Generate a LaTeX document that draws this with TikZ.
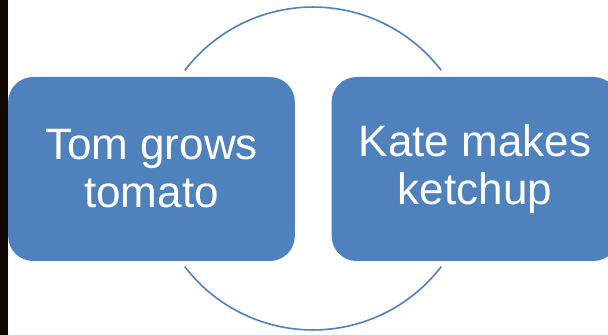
\documentclass[tikz,border=0pt]{standalone}
\usepackage{fontspec}
\setmainfont{Liberation Sans}
\definecolor{boxBlue}{RGB}{79,129,189}
\definecolor{sideDark}{RGB}{18,7,0}
\tikzset{stepBox/.style={shape = rectangle, rounded corners = 18.75pt, fill = boxBlue,
  minimum width = 215pt, minimum height = 138pt, inner sep = 0pt, text = white,
  align = center, font = \fontsize{33}{36}\selectfont}}
\tikzset{cycleArc/.style={draw = boxBlue, line width = 1.2pt}}

\begin{document}
\begin{tikzpicture}[x = 0.75pt, y = -0.75pt]
\useasboundingbox (0,0) rectangle (608,335);
\fill[white] (0,0) rectangle (608,335);
\fill[sideDark] (0,0) rectangle (7.5,335);
\coordinate (ctr) at (313,168.5);
% the cycle behind the boxes
\draw[cycleArc] ([shift={(142.6:121.1pt)}]ctr) arc[start angle = 142.6, end angle = 37.4, radius = 121.1pt];
\draw[cycleArc] ([shift={(217.4:121.1pt)}]ctr) arc[start angle = 217.4, end angle = 322.6, radius = 121.1pt];
% the two steps
\node[stepBox] (tom) at (151.5,169) {Tom grows\\tomato};
\node[stepBox] (kate) at (475,169) {Kate makes\\ketchup};
\end{tikzpicture}
\end{document}
